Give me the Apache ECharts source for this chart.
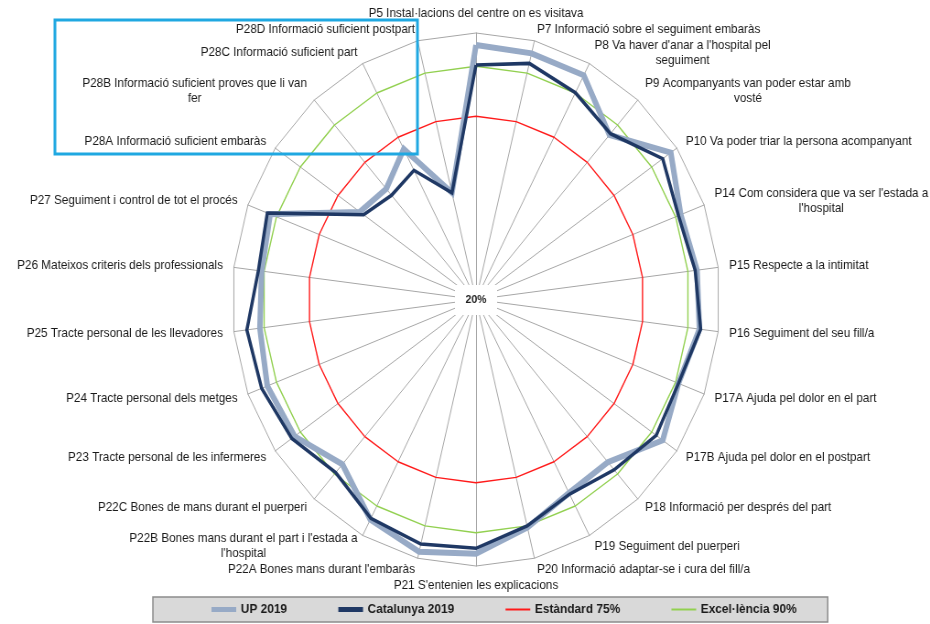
<!DOCTYPE html>
<html>
<head>
<meta charset="utf-8">
<script src="https://cdn.jsdelivr.net/npm/echarts@6/dist/echarts.min.js"></script>
<style>
  html, body { margin: 0; padding: 0; background: #fff; overflow: hidden; }
  /* the original picture is squeezed horizontally, so the chart is drawn wider and scaled back */
  #chart { width: 1016px; height: 624px; transform: scaleX(0.9154); transform-origin: 0 0; }
</style>
</head>
<body>
<div id="chart"></div>
<script>
const indicators = [
  'P5 Instal·lacions del centre on es visitava',
  'P7 Informació sobre el seguiment embaràs',
  "P8 Va haver d'anar a l'hospital pel\nseguiment",
  'P9 Acompanyants van poder estar amb\nvosté',
  'P10 Va poder triar la persona acompanyant',
  "P14 Com considera que va ser l'estada a\nl'hospital",
  'P15 Respecte a la intimitat',
  'P16 Seguiment del seu fill/a',
  'P17A Ajuda pel dolor en el part',
  'P17B Ajuda pel dolor en el postpart',
  'P18 Informació per després del part',
  'P19 Seguiment del puerperi',
  'P20 Informació adaptar-se i cura del fill/a',
  "P21 S'entenien les explicacions",
  "P22A Bones mans durant l'embaràs",
  "P22B Bones mans durant el part i l'estada a\nl'hospital",
  'P22C Bones de mans durant el puerperi',
  'P23 Tracte personal de les infermeres',
  'P24 Tracte personal dels metges',
  'P25 Tracte personal de les llevadores',
  'P26 Mateixos criteris dels professionals',
  'P27 Seguiment i control de tot el procés',
  'P28A Informació suficient embaràs',
  'P28B Informació suficient proves que li van\nfer',
  'P28C Informació suficient part',
  'P28D Informació suficient postpart'
];

const up2019 = [96.4, 96.1, 96.0, 86.0, 97.6, 91.8, 93.0, 93.8, 91.0, 94.4, 85.2, 85.6, 90.5,
                96.3, 98.0, 94.6, 86.1, 92.3, 93.2, 91.4, 90.8, 92.2, 66.3, 64.4, 71.0, 53.0];
const catalunya2019 = [90.4, 93.0, 90.1, 86.5, 94.4, 91.0, 92.4, 94.2, 91.0, 91.8, 88.3, 86.0, 90.0,
                       94.7, 95.6, 94.2, 89.4, 93.4, 95.2, 95.7, 91.9, 93.2, 64.8, 61.8, 63.8, 53.0];
const estandard75 = [75, 75, 75, 75, 75, 75, 75, 75, 75, 75, 75, 75, 75,
                     75, 75, 75, 75, 75, 75, 75, 75, 75, 75, 75, 75, 75];
const excelencia90 = [90, 90, 90, 90, 90, 90, 90, 90, 90, 90, 90, 90, 90,
                      90, 90, 90, 90, 90, 90, 90, 90, 90, 90, 90, 90, 90];

const axisMin = 20;
const axisMax = 100;
const centerLabel = '20%';

const FONT = '"Liberation Sans", Arial, sans-serif';
const TEXT_COLOR = '#1a1a1a';

// echarts lays radar axes out counter-clockwise, the reference goes clockwise from the top
const order = [0].concat(indicators.map((_, i) => i).slice(1).reverse());
const clockwise = arr => order.map(i => arr[i]);

const chart = echarts.init(document.getElementById('chart'));

const option = {
  animation: false,
  radar: {
    center: [520, 299.5],
    radius: 266.5,
    startAngle: 90,
    shape: 'polygon',
    splitNumber: 1,
    indicator: clockwise(indicators).map(n => ({ name: n, min: axisMin, max: axisMax })),
    nameGap: 12,
    axisName: {
      color: TEXT_COLOR,
      fontSize: 12.8,
      fontFamily: FONT,
      formatter: name => name.split('\n').map(l => '{c|' + l + '}').join('\n'),
      rich: {
        c: { align: 'center', color: TEXT_COLOR, fontSize: 12.8, fontFamily: FONT, lineHeight: 15 }
      }
    },
    axisLine: { lineStyle: { color: '#a6a6a6', width: 1 } },
    splitLine: { lineStyle: { color: '#a6a6a6', width: 1 } },
    splitArea: { show: false },
    axisTick: { show: false },
    axisLabel: { show: false }
  },
  legend: {
    left: 167,
    top: 597,
    padding: [6, 34, 6, 64],
    itemGap: 56,
    itemWidth: 27,
    itemHeight: 14,
    backgroundColor: '#d9d9d9',
    borderColor: '#8c8c8c',
    borderWidth: 1.5,
    textStyle: { fontFamily: FONT, fontSize: 13, fontWeight: 'bold', color: TEXT_COLOR },
    data: [
      { name: 'UP 2019', icon: 'path://M0,0H27V5H0Z' },
      { name: 'Catalunya 2019', icon: 'path://M0,0H27V5H0Z' },
      { name: 'Estàndard 75%', icon: 'path://M0,0H27V2H0Z' },
      { name: 'Excel·lència 90%', icon: 'path://M0,0H27V2H0Z' }
    ]
  },
  series: [{
    type: 'radar',
    symbol: 'none',
    silent: true,
    data: [
      {
        name: 'Excel·lència 90%', value: clockwise(excelencia90),
        lineStyle: { color: '#92d050', width: 1.4 }, itemStyle: { color: '#92d050' }
      },
      {
        name: 'Estàndard 75%', value: clockwise(estandard75),
        lineStyle: { color: '#ff1a1a', width: 1.4 }, itemStyle: { color: '#ff1a1a' }
      },
      {
        name: 'UP 2019', value: clockwise(up2019),
        lineStyle: { color: '#97aac6', width: 6, join: 'miter' }, itemStyle: { color: '#97aac6' }
      },
      {
        name: 'Catalunya 2019', value: clockwise(catalunya2019),
        lineStyle: { color: '#1f3864', width: 3.5, join: 'miter' }, itemStyle: { color: '#1f3864' }
      }
    ]
  }],
  graphic: [
    {
      type: 'rect', z: 100,
      shape: { x: 497, y: 285, width: 46, height: 30 },
      style: { fill: '#fff' }
    },
    {
      type: 'text', z: 101, x: 520, y: 300,
      style: {
        text: centerLabel, fill: '#222', font: 'bold 11.5px ' + FONT,
        textAlign: 'center', textVerticalAlign: 'middle'
      }
    },
    {
      // highlight box drawn over the P28 block
      type: 'rect', z: 100,
      shape: { x: 60, y: 20, width: 396, height: 134 },
      style: { fill: 'none', stroke: '#1fa8e1', lineWidth: 3 }
    }
  ]
};

chart.setOption(option);
</script>
</body>
</html>
